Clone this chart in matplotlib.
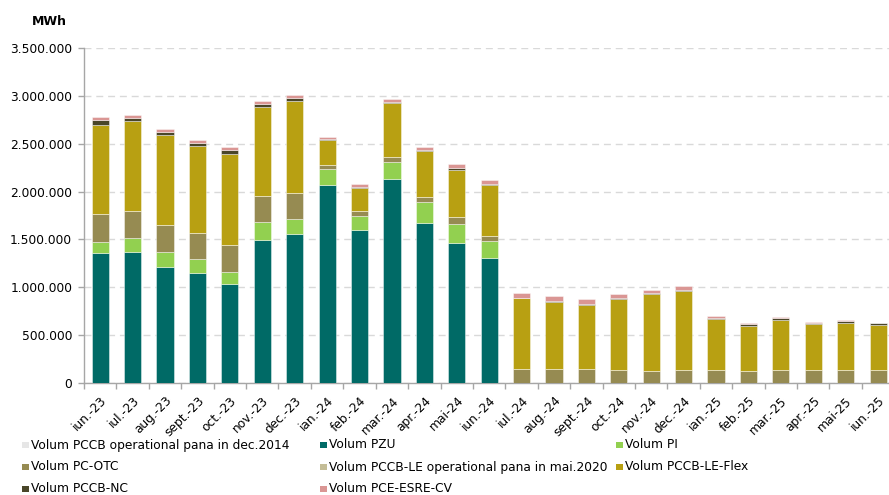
import matplotlib
matplotlib.use("Agg")
import matplotlib.pyplot as plt
from matplotlib.patches import Rectangle
import numpy as np

categories = ["iun.-23", "iul.-23", "aug.-23", "sept.-23", "oct.-23", "nov.-23", "dec.-23",
              "ian.-24", "feb.-24", "mar.-24", "apr.-24", "mai-24", "iun.-24", "iul.-24",
              "aug.-24", "sept.-24", "oct.-24", "nov.-24", "dec.-24", "ian.-25", "feb.-25",
              "mar.-25", "apr.-25", "mai-25", "iun.-25"]

pccb_dec2014 = [0] * 25
pzu = [1361000, 1372000, 1215000, 1152000, 1031000, 1497000, 1560000, 2068000, 1595000, 2131000,
       1675000, 1463000, 1309000, 0, 0, 0, 0, 0, 0, 0, 0, 0, 0, 0, 0]
pi = [109000, 143000, 154000, 143000, 132000, 188000, 153000, 164000, 153000, 181000,
      213000, 198000, 178000, 0, 0, 0, 0, 0, 0, 0, 0, 0, 0, 0, 0]
pc_otc = [292000, 279000, 278000, 269000, 275000, 269000, 269000, 49000, 49000, 49000,
          52000, 76000, 49000, 143000, 143000, 143000, 132000, 122000, 132000, 139000, 122000,
          139000, 132000, 139000, 132000]
pccb_le_mai2020 = [0] * 25
le_flex = [936000, 943000, 947000, 912000, 958000, 929000, 961000, 254000, 237000, 561000,
           481000, 491000, 529000, 742000, 707000, 675000, 749000, 811000, 832000, 526000, 477000,
           522000, 481000, 488000, 477000]
pccb_nc = [53000, 28000, 32000, 31000, 35000, 28000, 34000, 11000, 10000, 10000,
           10000, 18000, 10000, 5000, 8000, 8000, 7000, 6000, 6000, 17000, 17000,
           18000, 14000, 18000, 18000]
pce_esre_cv = [28000, 35000, 28000, 28000, 31000, 35000, 32000, 27000, 32000, 32000,
               38000, 45000, 42000, 55000, 50000, 50000, 41000, 35000, 42000, 18000, 11000,
               11000, 10000, 10000, 4000]

series_names = ["Volum PCCB operational pana in dec.2014", "Volum PZU", "Volum PI",
                "Volum PC-OTC", "Volum PCCB-LE operational pana in mai.2020", "Volum PCCB-LE-Flex",
                "Volum PCCB-NC", "Volum PCE-ESRE-CV"]
series_values = [pccb_dec2014, pzu, pi, pc_otc, pccb_le_mai2020, le_flex, pccb_nc, pce_esre_cv]
series_colors = ["#E6E6E6", "#006A66", "#92D050", "#968B52", "#C4BD97", "#B8A012",
                 "#4A4629", "#DA9694"]

W, H = 889, 495
fig = plt.figure(figsize=(W / 100, H / 100), dpi=100)
ax = fig.add_axes([84 / W, 112 / H, (894.3 - 84) / W, (383 - 48) / H])

x = np.arange(len(categories))
bottom = np.zeros(len(categories))
for name, vals, col in zip(series_names, series_values, series_colors):
    v = np.array(vals, dtype=float)
    ax.bar(x, v, width=0.53, bottom=bottom, color=col, edgecolor=(1, 1, 1, 0.5),
           linewidth=0.6, zorder=3)
    bottom += v

ax.set_xlim(-0.5, len(categories) - 0.5)
ax.set_ylim(0, 3500000)
yt = np.arange(0, 3500001, 500000)
ax.set_yticks(yt)
ax.set_yticklabels([f"{int(v):,}".replace(",", ".") for v in yt], fontsize=8.8, color="#000000")
ax.yaxis.grid(True, color="#D9D9D9", linestyle=(0, (5, 3.5)), linewidth=1.0, zorder=0)
ax.set_axisbelow(True)

ax.set_xticks(x)
ax.set_xticklabels(categories, rotation=45, ha="right", rotation_mode="anchor", fontsize=8.8)
ax.set_xticks(np.arange(-0.5, len(categories), 1.0), minor=True)
ax.tick_params(axis="x", which="major", length=0, pad=8)
ax.tick_params(axis="x", which="minor", length=4, color="#A6A6A6", width=1)
ax.tick_params(axis="y", length=4, color="#A6A6A6", width=1, pad=4.5)

for s in ["top", "right"]:
    ax.spines[s].set_visible(False)
for s in ["left", "bottom"]:
    ax.spines[s].set_color("#A6A6A6")
    ax.spines[s].set_linewidth(1.0)

fig.text(49 / W, 1 - 21.5 / H, "MWh", fontsize=9, fontweight="bold", ha="center", va="center")

# legend laid out row-major in 3 columns
col_x = [22, 320, 616]
row_y = [445, 467, 489]
for i, (name, col) in enumerate(zip(series_names, series_colors)):
    r, c = divmod(i, 3)
    mx, my = col_x[c], row_y[r]
    fig.patches.append(Rectangle((mx / W, 1 - (my + 3) / H), 6.5 / W, 6.5 / H,
                                 transform=fig.transFigure, facecolor=col, edgecolor="none"))
    fig.text((mx + 9) / W, 1 - my / H, name, fontsize=8.8, ha="left", va="center")

fig.savefig("out.png", dpi=100)
